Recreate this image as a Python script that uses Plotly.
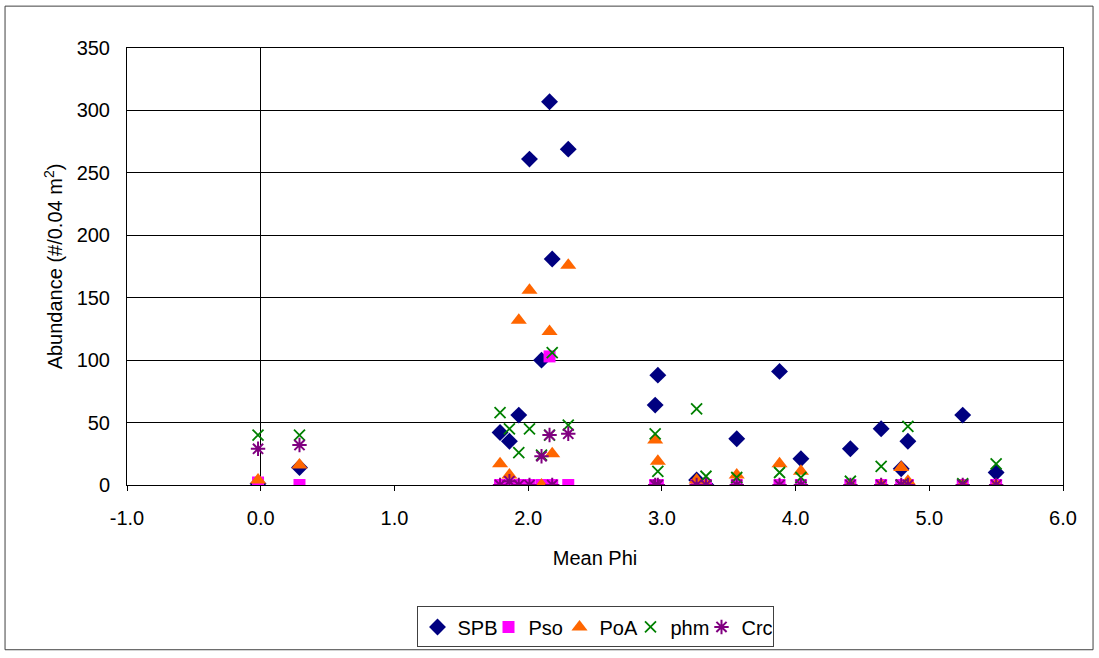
import plotly.graph_objects as go

# Sample grain size (mean phi) and taxon abundances per 0.04 m2 grab
mean_phi = [-0.02, 0.29, 1.79, 1.86, 1.93, 2.01, 2.10, 2.16, 2.18, 2.30, 2.95, 2.97,
            3.26, 3.33, 3.56, 3.88, 4.04, 4.41, 4.64, 4.79, 4.84, 5.25, 5.50]
spb = [1, 14, 42, 35, 56, 261, 100, 307, 181, 269, 64, 88,
       4, 0, 37, 91, 21, 29, 45, 13, 35, 56, 10]
pso = [2, 0, 0, 0, 0, 0, 0, 103, 0, 0, 0, 0,
       0, 0, 0, 0, 0, 0, 0, 0, 0, 0, 0]
poa = [4, 16, 17, 8, 132, 156, 0, 123, 25, 176, 36, 19,
       4, 0, 8, 17, 11, 0, 0, 14, 3, 0, 0]
phm = [40, 40, 58, 45, 26, 45, 24, 40, 106, 48, 41, 11,
       61, 7, 6, 10, 6, 3, 15, 0, 47, 1, 17]
crc = [29, 32, 0, 3, 0, 0, 23, 40, 0, 41, 0, 0,
       0, 0, 0, 0, 0, 0, 0, 0, 0, 0, 0]

# Axis tick positions and their printed labels (plain hyphen for the minus sign)
x_ticks = [-1, 0, 1, 2, 3, 4, 5, 6]
x_tick_labels = ["-1.0", "0.0", "1.0", "2.0", "3.0", "4.0", "5.0", "6.0"]

FONT = "Arial, Liberation Sans, sans-serif"

series = [
    ("SPB", spb, dict(symbol="diamond", size=13, color="#000080")),
    ("Pso", pso, dict(symbol="square", size=12, color="#FF00FF")),
    ("PoA", poa, dict(symbol="triangle-up", size=14, color="#FF6600")),
    ("phm", phm, dict(symbol="x-thin", size=11, color="#008000",
                      line=dict(color="#008000", width=1.8))),
    ("Crc", crc, dict(symbol="asterisk", size=12, color="#800080",
                      line=dict(color="#800080", width=2))),
]

fig = go.Figure()
for name, vals, marker in series:
    fig.add_trace(go.Scatter(x=mean_phi, y=vals, mode="markers", name=name,
                             marker=marker))

fig.update_layout(
    width=1099, height=658,
    margin=dict(l=127, r=36, t=48, b=172),
    paper_bgcolor="white", plot_bgcolor="white",
    font=dict(family=FONT, size=20, color="black"),
    showlegend=True,
    legend=dict(orientation="h", x=0.5, xanchor="center", y=-0.275, yanchor="top",
                bordercolor="#404040", borderwidth=1, font=dict(size=20),
                itemwidth=30, entrywidth=26),
    shapes=[dict(type="rect", xref="paper", yref="paper",
                 x0=-0.1303, x1=1.0321, y0=-0.377, y1=1.0958,
                 line=dict(color="#404040", width=1))],
)

fig.update_xaxes(
    range=[-1, 6], tickvals=x_ticks, ticktext=x_tick_labels,
    showgrid=False, zeroline=True, zerolinecolor="black", zerolinewidth=1,
    showline=True, linecolor="black", linewidth=1, mirror=True,
    ticks="outside", ticklen=5, tickcolor="black",
    ticklabelstandoff=10,
    title=dict(text="Mean Phi", standoff=22, font=dict(size=20)),
)
fig.update_yaxes(
    range=[0, 350], dtick=50,
    showgrid=True, gridcolor="black", gridwidth=1,
    zeroline=False,
    showline=True, linecolor="black", linewidth=1, mirror=True,
    ticks="", ticklabelstandoff=12,
    title=dict(text="Abundance (#/0.04 m<sup>2</sup>)", standoff=8, font=dict(size=20)),
)

fig.write_html("out.html")
